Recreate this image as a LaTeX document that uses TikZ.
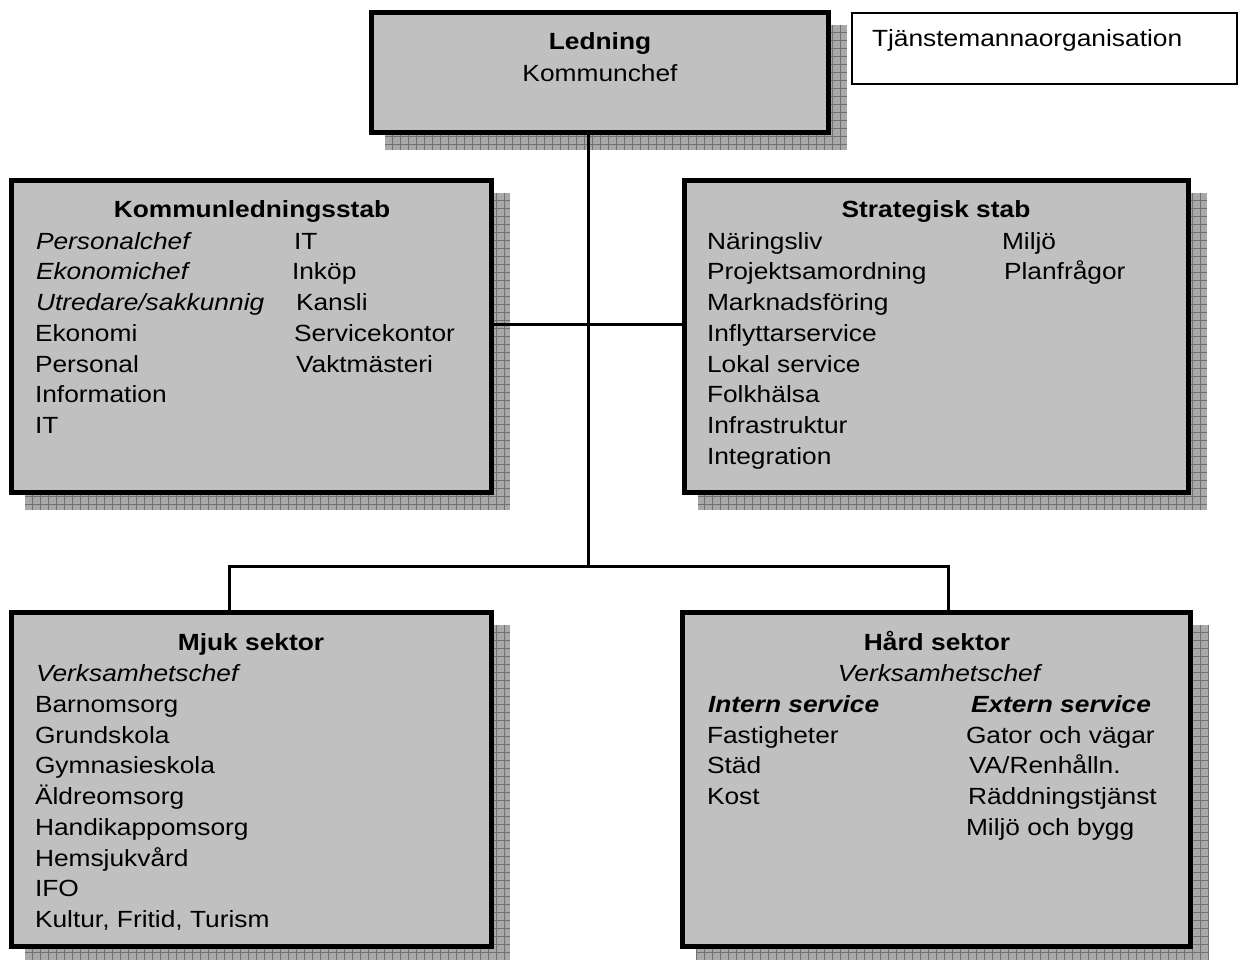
\documentclass[tikz,border=0pt]{standalone}
\usepackage{fontspec}
\setmainfont[FakeStretch=1.125]{Liberation Sans}
\usetikzlibrary{backgrounds}
\definecolor{boxgray}{RGB}{192,192,192}
\definecolor{shadowgray}{RGB}{168,168,168}
\definecolor{gridgray}{RGB}{112,112,112}
\tikzset{
  orgbox/.style={draw=black, line width=5pt, fill=boxgray, inner sep=0pt, outer sep=0pt, rectangle},
  notebox/.style={draw=black, line width=2pt, fill=white, inner sep=0pt, outer sep=0pt, rectangle},
  txt/.style={inner sep=0pt, outer sep=0pt, font=\fontsize{23.4}{30.7}\selectfont},
  lnk/.style={draw=black, line width=3pt},
}
\newcommand{\orgshadow}[1]{%
  \begin{scope}
    \clip ([shift={(13.5,12.5)}]#1.north west) rectangle ([shift={(18.5,17.5)}]#1.south east);
    \fill[shadowgray] ([shift={(13.5,12.5)}]#1.north west) rectangle ([shift={(18.5,17.5)}]#1.south east);
    \draw[gridgray, line width=0.9pt, step=8pt] ([shift={(13.5,12.5)}]#1.north west) grid ([shift={(18.5,17.5)}]#1.south east);
  \end{scope}}
\begin{document}
\begin{tikzpicture}[x=1pt, y=-1pt]
\useasboundingbox (0,0) rectangle (1239,960);

% boxes
\node[orgbox, anchor=north west, minimum width=457pt, minimum height=120pt] (L) at (371.5,12.5) {};
\node[orgbox, anchor=north west, minimum width=480pt, minimum height=312pt] (K) at (11.5,180.5) {};
\node[orgbox, anchor=north west, minimum width=504pt, minimum height=312pt] (S) at (684.5,180.5) {};
\node[orgbox, anchor=north west, minimum width=480pt, minimum height=334pt] (M) at (11.5,612.5) {};
\node[orgbox, anchor=north west, minimum width=508pt, minimum height=334pt] (H) at (682.5,612.5) {};
\node[notebox, anchor=north west, minimum width=385pt, minimum height=71pt] (T) at (852,13) {};

\begin{scope}[on background layer]
  \fill[white] (0,0) rectangle (1239,960);
  \orgshadow{L}
  \orgshadow{K}
  \orgshadow{S}
  \orgshadow{M}
  \orgshadow{H}
\end{scope}

% connectors
\coordinate (jk) at (588,324);
\coordinate (j1) at (588,566);
\coordinate (ml) at (229,566);
\coordinate (hl) at (948,566);
\draw[lnk] (L.south -| j1) -- (j1);
\draw[lnk] (K.east |- jk) -- (S.west |- jk);
\draw[lnk] (M.north -| ml) -- (ml) -- (hl) -- (H.north -| hl);

% Ledning
\node[txt, anchor=base] (Lt) at (600,50) {\bfseries Ledning};
\node[txt, anchor=base] (Ls) at (600,82) {Kommunchef};

% note
\node[txt, anchor=base west] (Tt) at (872,47) {Tjänstemannaorganisation};

% Kommunledningsstab
\node[txt, anchor=base] (Kt) at (252,218) {\bfseries Kommunledningsstab};
\node[txt, anchor=base west] (K1) at (36,249) {\itshape Personalchef};
\node[txt, anchor=base west] (K2) at (36,279) {\itshape Ekonomichef};
\node[txt, anchor=base west] (K3) at (36,310) {\itshape Utredare/sakkunnig};
\node[txt, anchor=base west] (K4) at (35,341) {Ekonomi};
\node[txt, anchor=base west] (K5) at (35,372) {Personal};
\node[txt, anchor=base west] (K6) at (35,402) {Information};
\node[txt, anchor=base west] (K7) at (35,433) {IT};
\node[txt, anchor=base west] (K8) at (294,249) {IT};
\node[txt, anchor=base west] (K9) at (292,279) {Inköp};
\node[txt, anchor=base west] (K10) at (296,310) {Kansli};
\node[txt, anchor=base west] (K11) at (294,341) {Servicekontor};
\node[txt, anchor=base west] (K12) at (296,372) {Vaktmästeri};

% Strategisk stab
\node[txt, anchor=base] (St) at (936,218) {\bfseries Strategisk stab};
\node[txt, anchor=base west] (S1) at (707,249) {Näringsliv};
\node[txt, anchor=base west] (S2) at (707,279) {Projektsamordning};
\node[txt, anchor=base west] (S3) at (707,310) {Marknadsföring};
\node[txt, anchor=base west] (S4) at (707,341) {Inflyttarservice};
\node[txt, anchor=base west] (S5) at (707,372) {Lokal service};
\node[txt, anchor=base west] (S6) at (707,402) {Folkhälsa};
\node[txt, anchor=base west] (S7) at (707,433) {Infrastruktur};
\node[txt, anchor=base west] (S8) at (707,464) {Integration};
\node[txt, anchor=base west] (S9) at (1002,249) {Miljö};
\node[txt, anchor=base west] (S10) at (1004,279) {Planfrågor};

% Mjuk sektor
\node[txt, anchor=base] (Mt) at (251,650) {\bfseries Mjuk sektor};
\node[txt, anchor=base west] (M1) at (36,681) {\itshape Verksamhetschef};
\node[txt, anchor=base west] (M2) at (35,712) {Barnomsorg};
\node[txt, anchor=base west] (M3) at (35,743) {Grundskola};
\node[txt, anchor=base west] (M4) at (35,773) {Gymnasieskola};
\node[txt, anchor=base west] (M5) at (35,804) {Äldreomsorg};
\node[txt, anchor=base west] (M6) at (35,835) {Handikappomsorg};
\node[txt, anchor=base west] (M7) at (35,866) {Hemsjukvård};
\node[txt, anchor=base west] (M8) at (35,896) {IFO};
\node[txt, anchor=base west] (M9) at (35,927) {Kultur, Fritid, Turism};

% Hård sektor
\node[txt, anchor=base] (Ht) at (937,650) {\bfseries Hård sektor};
\node[txt, anchor=base] (H1) at (939,681) {\itshape Verksamhetschef};
\node[txt, anchor=base west] (H2) at (708,712) {\bfseries\itshape Intern service};
\node[txt, anchor=base west] (H3) at (707,743) {Fastigheter};
\node[txt, anchor=base west] (H4) at (707,773) {Städ};
\node[txt, anchor=base west] (H5) at (707,804) {Kost};
\node[txt, anchor=base west] (H6) at (971,712) {\bfseries\itshape Extern service};
\node[txt, anchor=base west] (H7) at (966,743) {Gator och vägar};
\node[txt, anchor=base west] (H8) at (969,773) {VA/Renhålln.};
\node[txt, anchor=base west] (H9) at (968,804) {Räddningstjänst};
\node[txt, anchor=base west] (H10) at (966,835) {Miljö och bygg};
\end{tikzpicture}
\end{document}
